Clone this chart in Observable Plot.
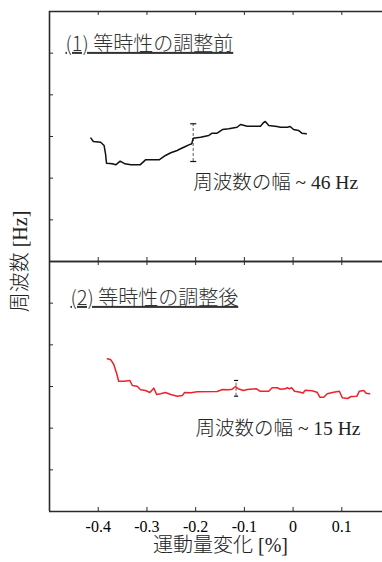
<!DOCTYPE html>
<html><head><meta charset="utf-8">
<script src="https://cdn.jsdelivr.net/npm/d3@7"></script>
<script src="https://cdn.jsdelivr.net/npm/@observablehq/plot@0.6"></script>
<style>html,body{margin:0;padding:0;background:#fff}#c{width:382px;height:562px;overflow:hidden}</style>
</head><body><div id="c"></div>
<script>
// ---- data ----
const panels = ["1", "2"];
const panelTitles = ["(1) 等時性の調整前", "(2) 等時性の調整後"];
const widthNotes = ["周波数の幅 ~ 46 Hz", "周波数の幅 ~ 15 Hz"];
const xLabel = "運動量変化 [%]";
const yLabel = "周波数 [Hz]";
const xTicks = [-0.4, -0.3, -0.2, -0.1, 0, 0.1];
const yTicks = [0, 40, 80, 120, 160, 200, 240];
const xDomain = [-0.5, 0.1835];
const yDomain = [0, 240];

// (1) before adjustment
const beforeX = [-0.415,-0.410,-0.395,-0.388,-0.385,-0.383,-0.371,-0.364,-0.355,-0.345,-0.333,-0.314,-0.303,-0.275,-0.262,-0.251,-0.238,-0.231,-0.221,-0.214,-0.208,-0.205,-0.190,-0.173,-0.166,-0.156,-0.145,-0.132,-0.115,-0.108,-0.094,-0.067,-0.061,-0.057,-0.050,-0.033,-0.026,-0.012,-0.006,0.001,0.011,0.018,0.027];
const beforeF = [118.4,115.2,114.5,111.4,103.4,94.4,93.8,92.8,96.3,93.8,92.8,92.8,97.6,97.6,101.8,104.4,106.6,108.2,110.4,112.0,113.0,118.4,119.3,121.0,123.2,123.2,126.7,127.4,128.9,131.5,129.9,129.9,133.2,134.4,130.6,129.6,128.9,128.9,129.6,126.7,125.8,123.2,122.6];

// (2) after adjustment
const afterX = [-0.381,-0.374,-0.368,-0.362,-0.358,-0.347,-0.335,-0.330,-0.320,-0.313,-0.303,-0.294,-0.286,-0.280,-0.272,-0.262,-0.251,-0.238,-0.227,-0.223,-0.210,-0.197,-0.156,-0.145,-0.132,-0.125,-0.118,-0.113,-0.102,-0.094,-0.075,-0.068,-0.050,-0.043,-0.033,-0.026,-0.016,-0.012,-0.008,-0.003,0.003,0.015,0.020,0.025,0.039,0.049,0.055,0.063,0.070,0.083,0.095,0.101,0.112,0.119,0.131,0.136,0.145,0.150,0.157];
const afterF = [146.6,145.6,141.1,132.2,125.1,125.1,125.8,121.0,120.3,116.8,116.2,114.2,118.4,112.3,113.0,114.2,112.3,110.7,111.4,114.2,114.0,114.9,115.2,117.1,116.8,117.4,120.0,117.8,116.2,117.1,117.8,115.5,115.5,118.8,118.8,117.4,117.8,119.0,117.8,118.8,115.5,114.5,113.6,116.4,115.9,114.5,109.7,109.7,113.0,114.5,115.5,109.2,108.5,110.4,110.7,115.5,116.2,113.6,113.0];

// error bars
const errPanel = ["1", "2"];
const errX = [-0.205, -0.117];
const errLo = [96.0, 110.7];
const errHi = [132.2, 125.8];

// ---- tables ----
const before = beforeX.map((x, i) => ({panel: "1", x, f: beforeF[i]}));
const after = afterX.map((x, i) => ({panel: "2", x, f: afterF[i]}));
const errs = errX.map((x, i) => ({panel: errPanel[i], x, lo: errLo[i], hi: errHi[i]}));
const errTop = errs.filter(d => d.panel === "1");
const errBot = errs.filter(d => d.panel === "2");

const cap = {draw(ctx, size) { const w = Math.sqrt(size) / 2; ctx.moveTo(-w, 0); ctx.lineTo(w, 0); }};
const serifCJK = "'Liberation Serif', 'Noto Sans CJK JP', serif";
const sansCJK = "'Noto Sans CJK JP', sans-serif";
const frameColor = "#2a2a2a";
const lightW = 300;

const chart = Plot.plot({
  width: 382, height: 562,
  marginTop: 11, marginBottom: 51, marginLeft: 49, marginRight: 0,
  style: {background: "#fff", overflow: "visible"},
  x: {domain: xDomain},
  y: {domain: yDomain, axis: null},
  fy: {domain: panels, axis: null, padding: 0},
  marks: [
    // inward ticks
    Plot.ruleY(yTicks, {insetRight: 329, stroke: frameColor, strokeWidth: 1}),
    Plot.ruleX(xTicks, {insetTop: 246, stroke: frameColor, strokeWidth: 1}),
    Plot.ruleX(xTicks, {insetBottom: 246, stroke: frameColor, strokeWidth: 1}),
    // frame (left, top, bottom of each panel)
    Plot.ruleX([xDomain[0]], {stroke: frameColor, strokeWidth: 1.6}),
    Plot.ruleY(yDomain, {stroke: frameColor, strokeWidth: 1.6}),
    // error bars
    Plot.ruleX(errs, {x: "x", y1: "lo", y2: "hi", fy: "panel", stroke: "#777", strokeWidth: 1.2, strokeDasharray: "3,2"}),
    Plot.dot(errTop, {x: "x", y: "lo", fy: "panel", symbol: cap, r: 3.4, stroke: "#111", fill: "none", strokeWidth: 1.2}),
    Plot.dot(errTop, {x: "x", y: "hi", fy: "panel", symbol: cap, r: 3.4, stroke: "#111", fill: "none", strokeWidth: 1.2}),
    Plot.dot(errBot, {x: "x", y: "lo", fy: "panel", symbol: cap, r: 2.3, stroke: "#111", fill: "none", strokeWidth: 1.2}),
    Plot.dot(errBot, {x: "x", y: "hi", fy: "panel", symbol: cap, r: 2.3, stroke: "#111", fill: "none", strokeWidth: 1.2}),
    // curves
    Plot.line(before, {x: "x", y: "f", fy: "panel", stroke: "#111", strokeWidth: 1.5}),
    Plot.line(after, {x: "x", y: "f", fy: "panel", stroke: "#f0202c", strokeWidth: 1.5}),
    // panel titles
    Plot.text([panelTitles[0]], {fy: () => "1", frameAnchor: "top-left", dx: 16, dy: 33, textAnchor: "start", lineAnchor: "middle", fontSize: 20, fontWeight: lightW, fontFamily: sansCJK, fill: "#333"}),
    Plot.text([panelTitles[1]], {fy: () => "2", frameAnchor: "top-left", dx: 21, dy: 37, textAnchor: "start", lineAnchor: "middle", fontSize: 20, fontWeight: lightW, fontFamily: sansCJK, fill: "#333"}),
    // width notes
    Plot.text([widthNotes[0]], {fy: () => "1", frameAnchor: "top-left", dx: 143.7, dy: 171, textAnchor: "start", lineAnchor: "middle", fontSize: 19.5, fontWeight: lightW, fontFamily: serifCJK, fill: "#222"}),
    Plot.text([widthNotes[1]], {fy: () => "2", frameAnchor: "top-left", dx: 146, dy: 167, textAnchor: "start", lineAnchor: "middle", fontSize: 19.5, fontWeight: lightW, fontFamily: serifCJK, fill: "#222"}),
    // x tick labels
    Plot.axisX({anchor: "bottom", ticks: xTicks, tickSize: 0, tickPadding: 9, tickFormat: d => d === 0 ? "0" : String(d), fontSize: 16, fontFamily: "'Liberation Serif', serif", label: null}),
    // axis labels
    Plot.text([xLabel], {fy: () => "2", frameAnchor: "bottom", dx: 4.5, dy: 34, lineAnchor: "middle", fontSize: 20, fontWeight: lightW, fontFamily: serifCJK, fill: "#222"}),
    Plot.text([yLabel], {fy: () => "2", frameAnchor: "top-left", dx: -29, dy: 0, rotate: -90, textAnchor: "middle", lineAnchor: "middle", fontSize: 20, fontWeight: lightW, fontFamily: serifCJK, fill: "#222"})
  ]
});

d3.select(chart).selectAll("text")
  .filter(function () { return this.textContent.startsWith("("); })
  .style("text-decoration", "underline")
  .style("text-decoration-color", "#666");

document.getElementById("c").appendChild(chart);
</script>
</body></html>
